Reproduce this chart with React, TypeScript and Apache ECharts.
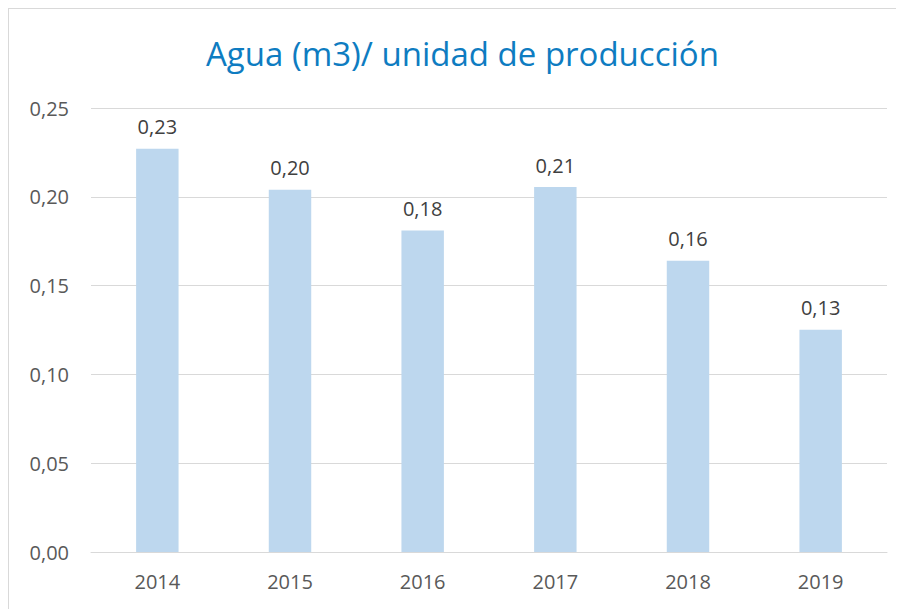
import React, { useEffect, useRef } from "react";
import * as echarts from "echarts";

const categories = ["2014", "2015", "2016", "2017", "2018", "2019"];
const values = [0.227, 0.204, 0.181, 0.2055, 0.164, 0.1252];
const titleText = "Agua (m3)/ unidad de producción";

const fmt = (v: number) => v.toFixed(2).replace(".", ",");

export default function App() {
  const ref = useRef<HTMLDivElement>(null);
  useEffect(() => {
    if (!ref.current) return;
    const chart = echarts.init(ref.current, null, { renderer: "svg" });
    chart.setOption({
      animation: false,
      title: {
        text: titleText,
        left: 192,
        top: 23,
        textStyle: {
          color: "#0E7CC1",
          fontSize: 33,
          fontWeight: "normal",
          fontFamily: "Open Sans",
        },
      },
      grid: { left: 82, top: 99, width: 796, height: 444 },
      xAxis: {
        type: "category",
        data: categories,
        axisLine: { lineStyle: { color: "#D9D9D9", width: 1 } },
        axisTick: { show: false },
        axisLabel: { color: "#595959", fontSize: 20, fontFamily: "Open Sans", margin: 19 },
      },
      yAxis: {
        type: "value",
        min: 0,
        max: 0.25,
        interval: 0.05,
        axisLine: { show: false },
        axisTick: { show: false },
        splitLine: { lineStyle: { color: "#D9D9D9", width: 1 } },
        axisLabel: {
          color: "#595959",
          fontSize: 20,
          fontFamily: "Open Sans",
          margin: 22,
          formatter: (v: number) => fmt(v),
        },
      },
      series: [
        {
          type: "bar",
          data: values,
          barWidth: "32%",
          itemStyle: { color: "#BDD7EE" },
          label: {
            show: true,
            position: "top",
            distance: 12,
            color: "#404040",
            fontSize: 20,
            fontFamily: "Open Sans",
            formatter: (p: any) => fmt(p.value),
          },
        },
      ],
    });
    return () => chart.dispose();
  }, []);
  return (
    <div
      ref={ref}
      style={{ width: 910, height: 620, border: "1px solid #D9D9D9", boxSizing: "content-box" }}
    />
  );
}
